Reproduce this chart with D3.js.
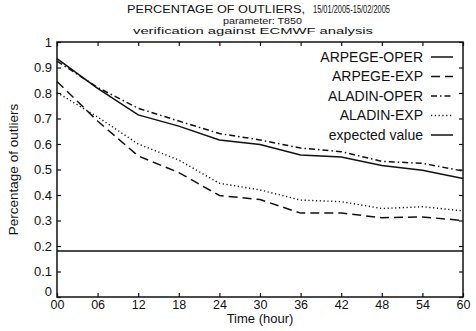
<!DOCTYPE html>
<html>
<head>
<meta charset="utf-8">
<script src="https://cdn.jsdelivr.net/npm/d3@7"></script>
<style>
  body { margin: 0; background: #fff; }
  svg { display: block; font-family: "Liberation Sans", Arial, Helvetica, sans-serif; }
</style>
</head>
<body>
<svg id="chart" width="476" height="331"></svg>
<script>
// ---- data ----
const hours = [0, 6, 12, 18, 24, 30, 36, 42, 48, 54, 60];
const xTickLabels = ["00", "06", "12", "18", "24", "30", "36", "42", "48", "54", "60"];
const yTicks = [0, 0.1, 0.2, 0.3, 0.4, 0.5, 0.6, 0.7, 0.8, 0.9, 1];
const arpegeOper = [0.935, 0.818, 0.714, 0.670, 0.616, 0.598, 0.557, 0.549, 0.516, 0.497, 0.465];
const arpegeExp  = [0.845, 0.690, 0.553, 0.488, 0.398, 0.382, 0.329, 0.329, 0.311, 0.314, 0.300];
const aladinOper = [0.925, 0.822, 0.740, 0.690, 0.641, 0.616, 0.584, 0.570, 0.532, 0.524, 0.494];
const aladinExp  = [0.802, 0.706, 0.600, 0.537, 0.446, 0.420, 0.380, 0.374, 0.347, 0.354, 0.338];
const expectedValue = [0.18, 0.18];
const expectedHours = [0, 60];
const seriesNames = ["ARPEGE-OPER", "ARPEGE-EXP", "ALADIN-OPER", "ALADIN-EXP", "expected value"];

const series = [
  { name: seriesNames[0], xs: hours, ys: arpegeOper, dash: null },
  { name: seriesNames[1], xs: hours, ys: arpegeExp, dash: "9,5" },
  { name: seriesNames[2], xs: hours, ys: aladinOper, dash: "6,3,1.5,3" },
  { name: seriesNames[3], xs: hours, ys: aladinExp, dash: "1.2,2.6" },
  { name: seriesNames[4], xs: expectedHours, ys: expectedValue, dash: null }
];

const svg = d3.select("#chart");
const L = 57, R = 463, T = 42, B = 297;
const x = d3.scaleLinear().domain([0, 60]).range([L, R]);
const y = d3.scaleLinear().domain([0, 1]).range([B, T]);
const ink = "#111";

// titles
const t1 = svg.append("text").attr("x", 127).attr("y", 13).attr("fill", ink)
  .style("font-size", "10px");
t1.append("tspan").text("PERCENTAGE OF OUTLIERS,")
  .attr("textLength", 178).attr("lengthAdjust", "spacingAndGlyphs");
t1.append("tspan").attr("x", 313).text("15/01/2005-15/02/2005").style("font-size", "10px")
  .attr("textLength", 77).attr("lengthAdjust", "spacingAndGlyphs");
svg.append("text").attr("x", 223).attr("y", 23.5).attr("fill", ink).style("font-size", "9.5px")
  .attr("textLength", 79).attr("lengthAdjust", "spacingAndGlyphs").text("parameter: T850");
svg.append("text").attr("x", 133).attr("y", 33.5).attr("fill", ink).style("font-size", "9.5px")
  .attr("textLength", 240).attr("lengthAdjust", "spacingAndGlyphs").text("verification against ECMWF analysis");

// axes with inward ticks
const xAxis = d3.axisBottom(x).tickValues(hours).tickFormat((d, i) => xTickLabels[i])
  .tickSizeInner(-4).tickSizeOuter(0).tickPadding(3);
const gx = svg.append("g").attr("transform", `translate(0,${B})`).call(xAxis);
const yAxis = d3.axisLeft(y).tickValues(yTicks).tickFormat(d => d === 0 ? "0" : d === 1 ? "1" : d3.format(".1f")(d))
  .tickSizeInner(-4).tickSizeOuter(0).tickPadding(5);
const gy = svg.append("g").attr("transform", `translate(${L},0)`).call(yAxis);
const xTop = d3.axisTop(x).tickValues(hours).tickFormat("").tickSizeInner(-4).tickSizeOuter(0);
const gxt = svg.append("g").attr("transform", `translate(0,${T})`).call(xTop);
const yRight = d3.axisRight(y).tickValues(yTicks).tickFormat("").tickSizeInner(-4).tickSizeOuter(0);
const gyr = svg.append("g").attr("transform", `translate(${R},0)`).call(yRight);
[gx, gy, gxt, gyr].forEach(g => {
  g.select(".domain").remove();
  g.selectAll("line").attr("stroke", ink).attr("stroke-width", 1.2);
  g.selectAll("text").attr("fill", ink).attr("font-family", null);
});
gx.selectAll("text").style("font-size", "12.5px");
gy.selectAll("text").style("font-size", "13px");
// nudge the 0 on the y axis up like the reference
gy.selectAll(".tick").filter(d => d === 0).select("text").attr("dy", "-0.1em");

// frame
svg.append("rect").attr("x", L).attr("y", T).attr("width", R - L).attr("height", B - T)
  .attr("fill", "none").attr("stroke", ink).attr("stroke-width", 1.5);

// axis titles
svg.append("text").attr("x", x(30)).attr("y", 323).attr("text-anchor", "middle").attr("fill", ink)
  .style("font-size", "13px").text("Time (hour)");
svg.append("text").attr("transform", `translate(18,${y(0.5)}) rotate(-90)`).attr("text-anchor", "middle")
  .attr("fill", ink).style("font-size", "13.5px").text("Percentage of outliers");

// lines
const line = d3.line().x(d => x(d[0])).y(d => y(d[1]));
series.forEach(s => {
  svg.append("path").datum(s.xs.map((h, i) => [h, s.ys[i]]))
    .attr("d", line).attr("fill", "none").attr("stroke", ink)
    .attr("stroke-width", s.dash && s.dash.startsWith("1.2") ? 1.4 : 1.5)
    .attr("stroke-dasharray", s.dash);
});

// legend
const legY = [57, 76.5, 96, 115.5, 135];
series.forEach((s, i) => {
  svg.append("text").attr("x", 423).attr("y", legY[i]).attr("dy", "0.35em").attr("text-anchor", "end")
    .attr("fill", ink).style("font-size", "14px").text(s.name);
  svg.append("line").attr("x1", 431).attr("x2", 453).attr("y1", legY[i]).attr("y2", legY[i])
    .attr("stroke", ink).attr("stroke-width", 1.5).attr("stroke-dasharray", s.dash);
});
</script>
</body>
</html>
